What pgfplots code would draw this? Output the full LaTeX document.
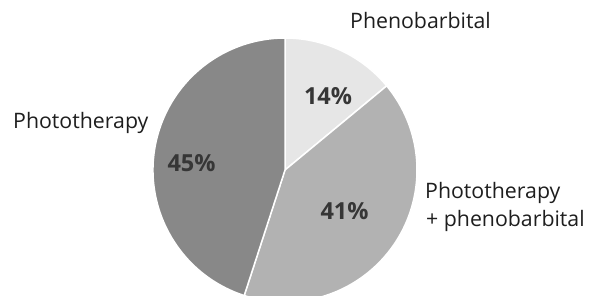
\documentclass[border=0pt]{standalone}
\usepackage{pgfplots}
\usepackage{pgfplotstable}
\pgfplotsset{compat=1.18}
\usepackage{fontspec}
\setmainfont{Open Sans}
\definecolor{cLight}{HTML}{E6E6E6}
\definecolor{cMid}{HTML}{B2B2B2}
\definecolor{cDark}{HTML}{888888}
\definecolor{cPct}{HTML}{363636}
\definecolor{cLab}{HTML}{1E1E1E}
\pgfplotstableread{
name value
Phenobarbital 14
Combined 41
Phototherapy 45
}\piedata
\begin{document}
\begin{tikzpicture}
\pgfplotstablegetelem{0}{value}\of\piedata \edef\va{\pgfplotsretval}
\pgfplotstablegetelem{1}{value}\of\piedata \edef\vb{\pgfplotsretval}
\pgfplotstablegetelem{2}{value}\of\piedata \edef\vc{\pgfplotsretval}
\pgfmathsetmacro\aA{90}
\pgfmathsetmacro\aB{90-3.6*\va}
\pgfmathsetmacro\aC{\aB-3.6*\vb}
\pgfmathsetmacro\aD{\aC-3.6*\vc}
\begin{axis}[
  hide axis, scale only axis,
  x=1bp, y=1bp,
  xmin=0, xmax=590, ymin=0, ymax=296,
  clip=true,
]
\draw[white, line width=1.5bp, fill=cLight] (axis cs:285,126) -- ++(\aA:132bp) arc[start angle=\aA, end angle=\aB, radius=132bp] -- cycle;
\draw[white, line width=1.5bp, fill=cMid] (axis cs:285,126) -- ++(\aB:132bp) arc[start angle=\aB, end angle=\aC, radius=132bp] -- cycle;
\draw[white, line width=1.5bp, fill=cDark] (axis cs:285,126) -- ++(\aC:132bp) arc[start angle=\aC, end angle=\aD, radius=132bp] -- cycle;
\node[anchor=base, font=\fontsize{23.5bp}{28bp}\selectfont\bfseries, text=cPct, inner sep=0pt] at (axis cs:328,192) {\va\%};
\node[anchor=base, font=\fontsize{23.5bp}{28bp}\selectfont\bfseries, text=cPct, inner sep=0pt] at (axis cs:344.5,77) {\vb\%};
\node[anchor=base, font=\fontsize{23.5bp}{28bp}\selectfont\bfseries, text=cPct, inner sep=0pt] at (axis cs:191.5,125) {\vc\%};
\node[anchor=base west, font=\fontsize{21.3bp}{25bp}\selectfont, text=cLab, inner sep=0pt] at (axis cs:350,268) {Phenobarbital};
\node[anchor=base west, font=\fontsize{21.3bp}{25bp}\selectfont, text=cLab, inner sep=0pt] at (axis cs:13,168) {Phototherapy};
\node[anchor=base west, font=\fontsize{21.3bp}{25bp}\selectfont, text=cLab, inner sep=0pt] at (axis cs:425,98) {Phototherapy};
\node[anchor=base west, font=\fontsize{21.3bp}{25bp}\selectfont, text=cLab, inner sep=0pt] at (axis cs:426,70) {+ phenobarbital};
\end{axis}
\pgfresetboundingbox
\path[use as bounding box] (0,0) rectangle (590bp,296bp);
\end{tikzpicture}
\end{document}
